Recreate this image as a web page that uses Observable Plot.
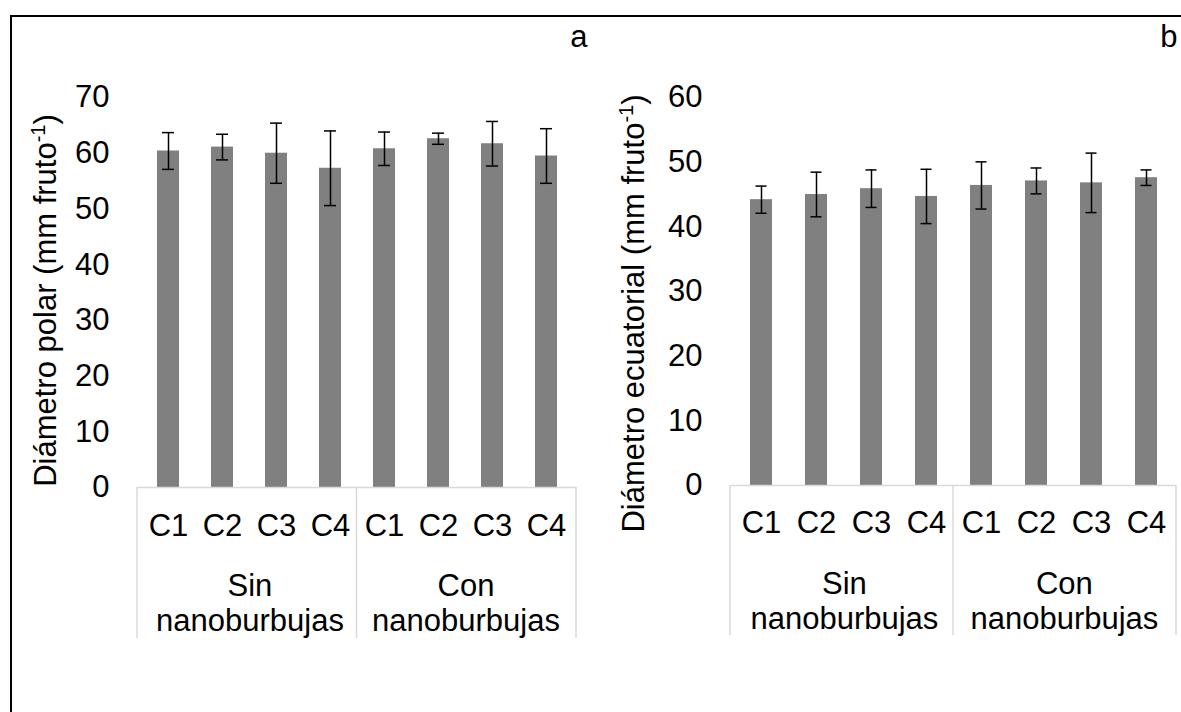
<!DOCTYPE html>
<html><head><meta charset="utf-8">
<script src="https://cdn.jsdelivr.net/npm/d3@7"></script>
<script src="https://cdn.jsdelivr.net/npm/@observablehq/plot@0.6"></script>
<style>
html,body{margin:0;padding:0;background:#fff;overflow:hidden;width:1181px;height:712px;}
#frame{position:absolute;left:10px;top:15px;width:1400px;height:900px;border:2px solid #000;box-sizing:border-box;}
.panel{position:absolute;top:0;}
.panel svg{display:block;overflow:visible;}
</style></head><body>
<div id="frame"></div>
<div id="pa" class="panel" style="left:0px"></div>
<div id="pb" class="panel" style="left:590px"></div>
<script>
// ---- data ----
const groups = ["Sin nanoburbujas", "Con nanoburbujas"];
const groupLabels = ["Sin\nnanoburbujas", "Con\nnanoburbujas"];
const treatments = ["C1", "C2", "C3", "C4"];
// panel a: Diámetro polar (order: Sin C1..C4, Con C1..C4)
const polarMean = [60.4, 61.1, 60.0, 57.3, 60.8, 62.6, 61.7, 59.5];
const polarErr  = [3.3, 2.3, 5.4, 6.7, 3.0, 1.0, 4.0, 4.9];
// panel b: Diámetro ecuatorial
const ecuMean = [44.2, 45.0, 45.9, 44.7, 46.4, 47.1, 46.8, 47.6];
const ecuErr  = [2.1, 3.45, 2.9, 4.2, 3.65, 2.0, 4.6, 1.2];
const yTicksA = [0, 10, 20, 30, 40, 50, 60, 70];
const yTicksB = [0, 10, 20, 30, 40, 50, 60];

const keys = groups.flatMap(g => treatments.map(t => g + "|" + t));
function rows(means, errs) {
  return keys.map((k, i) => ({key: k, m: means[i], e: errs[i]}));
}

const FONT = "'Liberation Sans', Arial, Helvetica, sans-serif";
const FS = 31;

function panel(o) {
  const data = rows(o.means, o.errs);
  const W = o.width - o.mL - o.mR;
  const step = W / keys.length;
  const plot = Plot.plot({
    width: o.width, height: o.height,
    marginLeft: o.mL, marginRight: o.mR, marginTop: o.mT, marginBottom: o.mB,
    style: {fontFamily: FONT, fontSize: FS + "px", color: "#000", background: "transparent", overflow: "visible"},
    x: {type: "band", domain: keys, paddingInner: 0.6, paddingOuter: 0.3, axis: null},
    y: {domain: [0, o.yMax], axis: null},
    marks: [
      Plot.axisY({ticks: o.yTicks, tickSize: 0, tickPadding: o.yPad, fontSize: FS, label: null, tickFormat: d => String(d)}),
      Plot.axisX({tickSize: 0, tickPadding: o.xPad, fontSize: FS, label: null, tickFormat: k => k.split("|")[1]}),
      Plot.barY(data, {x: "key", y: "m", fill: "#808080"}),
      Plot.ruleY([0], {stroke: "#d9d9d9", strokeWidth: 1.5}),
      // group dividers below the axis
      Plot.frame({
        render(index, scales, values, dims) {
          const g = d3.create("svg:g").attr("stroke", "#d9d9d9").attr("stroke-width", 1.5);
          const ml = dims.marginLeft, st = (dims.width - dims.marginLeft - dims.marginRight) / keys.length;
          const yb = dims.height - dims.marginBottom;
          for (let k = 0; k <= groups.length; k++) {
            const x = ml + k * treatments.length * st;
            g.append("line").attr("x1", x).attr("x2", x).attr("y1", yb).attr("y2", yb + o.divLen);
          }
          return g.node();
        }
      }),
      Plot.text(groupLabels, {
        x: (d, i) => groups[i] + "|C2", dx: step / 2,
        text: d => d, frameAnchor: "bottom", lineAnchor: "top", textAnchor: "middle", dy: o.groupDy,
        lineHeight: 1.13, fontSize: FS, fill: "#000"
      }),
      // error bars
      Plot.ruleX(data, {x: "key", y1: d => d.m - d.e, y2: d => d.m + d.e, stroke: "#000", strokeWidth: 1.5}),
      Plot.tickY(data, {x: "key", y: d => d.m + d.e, stroke: "#000", strokeWidth: 1.5, insetLeft: o.capInset, insetRight: o.capInset}),
      Plot.tickY(data, {x: "key", y: d => d.m - d.e, stroke: "#000", strokeWidth: 1.5, insetLeft: o.capInset, insetRight: o.capInset}),
      // y title
      Plot.text([o.title], {text: d => d, frameAnchor: "left", rotate: -90, textAnchor: "middle", dx: o.titleDx, dy: o.titleDy, lineAnchor: "middle", fontSize: FS, fill: "#000"}),
      // panel letter
      Plot.text([o.letter], {text: d => d, frameAnchor: "top-right", textAnchor: "end", lineAnchor: "middle", dx: o.letterDx, dy: o.letterDy, fontSize: FS, fill: "#000"})
    ]
  });
  // superscript for "fruto-1"
  plot.querySelectorAll("text").forEach(t => {
    if (t.textContent.includes("^")) {
      const [a, rest] = t.textContent.split("^");
      const sup = rest.slice(0, 2), tail = rest.slice(2);
      t.textContent = "";
      const ns = "http://www.w3.org/2000/svg";
      const t1 = document.createElementNS(ns, "tspan"); t1.textContent = a;
      const t2 = document.createElementNS(ns, "tspan"); t2.textContent = sup;
      t2.setAttribute("baseline-shift", "super"); t2.setAttribute("font-size", "20");
      const t3 = document.createElementNS(ns, "tspan"); t3.textContent = tail;
      t.append(t1, t2, t3);
    }
  });
  return plot;
}

document.getElementById("pa").append(panel({
  means: polarMean, errs: polarErr, yMax: 70, yTicks: yTicksA,
  width: 600, height: 660, mL: 137, mR: 24, mT: 97, mB: 173,
  yPad: 28, xPad: 26, groupDy: 84, divLen: 151, capInset: 5,
  title: "Diámetro polar (mm fruto^-1)", titleDx: -91, titleDy: 8,
  letter: "a", letterDx: 11, letterDy: -60
}));
document.getElementById("pb").append(panel({
  means: ecuMean, errs: ecuErr, yMax: 60, yTicks: yTicksB,
  width: 591, height: 660, mL: 140, mR: 5, mT: 97, mB: 175,
  yPad: 28, xPad: 25, groupDy: 84, divLen: 150, capInset: 5.5,
  title: "Diámetro ecuatorial (mm fruto^-1)", titleDx: -96, titleDy: 22,
  letter: "b", letterDx: 1, letterDy: -60
}));
</script>
</body></html>
